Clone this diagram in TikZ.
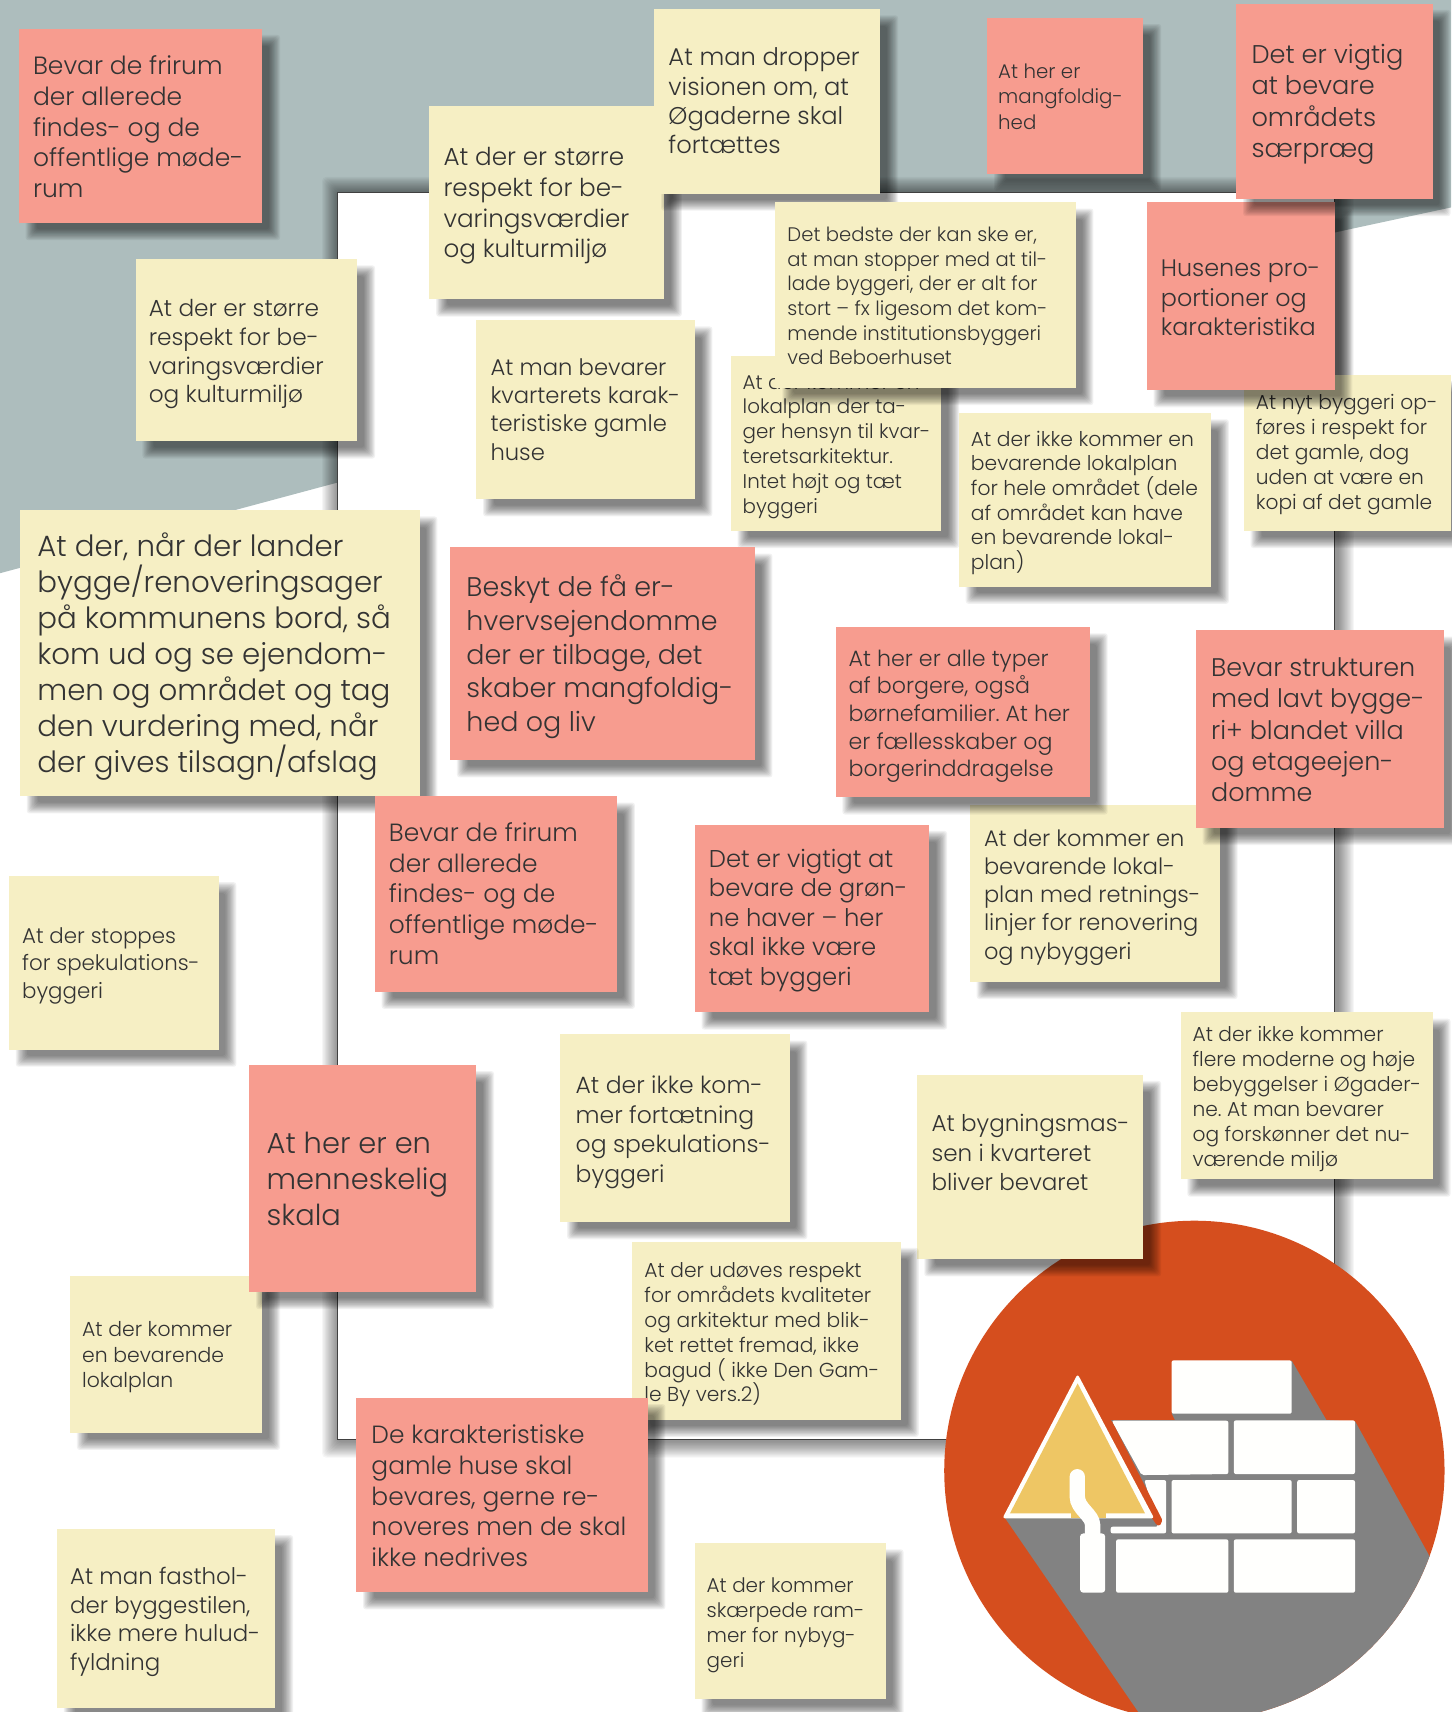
\documentclass[tikz,border=0pt]{standalone}
\usepackage{fontspec}
\setmainfont{Poppins}[UprightFont=* Light]
\definecolor{bgblue}{HTML}{ADBDBD}
\definecolor{noteyellow}{HTML}{F6EFC4}
\definecolor{notered}{HTML}{F79C8F}
\definecolor{iconorange}{HTML}{D54E1E}
\definecolor{icongrey}{HTML}{828282}
\definecolor{icongold}{HTML}{EEC664}
\definecolor{brick}{HTML}{FFFFFD}
\definecolor{ink}{HTML}{333333}
\tikzset{
  shadowlayer/.style={fill=black,fill opacity=0.055,rounded corners=2pt},
  glowlayer/.style={fill=black,fill opacity=0.035,rounded corners=3pt},
  ynote/.style={fill=noteyellow},
  rnote/.style={fill=notered},
  notebox/.style={anchor=north west,inner sep=0pt,draw=none},
  notetext/.style={anchor=west,inner sep=0pt,align=left,text=ink},
  brickshape/.style={fill=brick,rounded corners=1.5pt},
}
% name, style, x1, y1, x2, y2, line pitch, padding, then: font size, vertical nudge, text
\newcommand\stickynote[8]{%
  \foreach \i in {-5,-4,...,5}{\fill[shadowlayer] ({#3+11.5-\i},{#4+11-\i}) rectangle ({#5+11.5+\i},{#6+11+\i});}
  \node[notebox,#2,minimum width={\fpeval{(#5-#3)*0.81884}pt},minimum height={\fpeval{(#6-#4)*0.81884}pt}] (#1) at (#3,#4) {};
  \def\snpitch{#7}\def\snname{#1-t}\def\snx{\fpeval{#3+#8}}\def\sny{\fpeval{(#4+#6)/2}}%
  \snlabel}
\newcommand\snlabel[3]{%
  \node[notetext,font=\fontsize{\fpeval{#1*0.665}}{\fpeval{\snpitch*0.81884}}\selectfont] (\snname) at (\snx,\fpeval{\sny+#2}) {#3};
}
\begin{document}
\frenchspacing
\begin{tikzpicture}[x=0.81884pt,y=-0.81884pt]
\useasboundingbox (0,0) rectangle (1329,1568);
% background
\fill[bgblue] (0,525) -- (309,442) -- (1222,213) -- (1329,190) -- (1329,0) -- (0,0) -- cycle;
\foreach \i in {1,...,15}{\fill[glowlayer] ({309+1-\i},{176+1-\i}) rectangle ({1222+3+\i},{1318+2+\i});}
\node[anchor=north west,inner sep=0pt,fill=white,draw=black!75,line width=0.6pt,minimum width={\fpeval{913*0.81884}pt},minimum height={\fpeval{1142*0.81884}pt}] (page) at (309,176) {};
% icon
\begin{scope}[shift={(840.8,1099.1)},xscale=0.3117,yscale=0.3053]
  \fill[iconorange] (812,812) ellipse [x radius=735,y radius=750];
  \begin{scope}
    \clip (812,812) ellipse [x radius=735,y radius=750];
    \fill[icongrey] (253,950) -- (650,1540) -- (1700,1540) -- (1628,1300) -- (1285,665) -- (1200,660) -- (1098,482) -- (745,640) -- (755,660) -- (567,660) -- (700,950) -- cycle;
  \end{scope}
  \fill[brickshape] (745,481) rectangle (1098,641);
  \fill[brickshape] (569,662) -- (912,662) -- (912,822) -- (657,825) -- cycle;
  \fill[brickshape] (928,661) rectangle (1284,822);
  \fill[brickshape] (665,840) -- (729,840) -- (729,1000) -- (566,1000) -- (566,980) -- (705,980) -- cycle;
  \fill[brickshape] (745,840) rectangle (1098,1000);
  \fill[brickshape] (1114,840) rectangle (1284,1000);
  \fill[brickshape] (582,1018) rectangle (912,1178);
  \fill[brickshape] (928,1018) rectangle (1284,1178);
  \fill[brick,rounded corners=2.5pt] (476,1000) rectangle (550,1178);
  \fill[iconorange,rounded corners=1pt] (569,662) -- (718,960) -- (711,977) -- (701,975) -- (685,950) -- (480,600) -- cycle;
  \fill[brick,rounded corners=2pt] (469,522) -- (248,955) -- (694,955) -- cycle;
  \fill[icongold] (469,550) -- (270,940) -- (667,940) -- cycle;
  \fill[icongold] (450,938) rectangle (552,953);
  \draw[brick,line width=11.5pt,line cap=round] (468,830) -- (468,890) .. controls (468,925) and (513,945) .. (513,975) -- (513,1005);
\end{scope}
% notes, back to front
\stickynote{n1}{rnote}{17}{26}{240}{204}{28.2}{13}{28.2}{1}{Bevar de frirum\\der allerede\\findes- og de\\offentlige møde-\\rum}
\stickynote{n3}{ynote}{393}{97}{608}{274}{28.3}{13}{27.8}{3}{At der er større\\respekt for be-\\varingsværdier\\og kulturmiljø}
\stickynote{n2}{ynote}{599}{8}{806}{177}{26.8}{13}{27.3}{0}{At man dropper\\visionen om, at\\Øgaderne skal\\fortættes}
\stickynote{n4}{rnote}{904}{16}{1047}{159}{23.3}{10}{22.3}{1}{At her er\\mangfoldig-\\hed}
\stickynote{n6}{ynote}{124}{237}{327}{404}{26.3}{12}{26.2}{4}{At der er større\\respekt for be-\\varingsværdier\\og kulturmiljø}
\stickynote{n7}{ynote}{436}{293}{636}{457}{26}{13}{25.6}{0}{At man bevarer\\kvarterets karak-\\teristiske gamle\\huse}
\stickynote{n8}{ynote}{669}{326}{862}{486}{22.8}{11}{22.4}{3}{At der kommer en\\lokalplan der ta-\\ger hensyn til kvar-\\teretsarkitektur.\\Intet højt og tæt\\byggeri}
\stickynote{n9}{ynote}{710}{185}{985}{355}{22.6}{11}{22.1}{1}{Det bedste der kan ske er,\\at man stopper med at til-\\lade byggeri, der er alt for\\stort – fx ligesom det kom-\\mende institutionsbyggeri\\ved Beboerhuset}
\stickynote{n11}{ynote}{1139}{343}{1329}{486}{23}{11}{22.8}{2}{At nyt byggeri op-\\føres i respekt for\\det gamle, dog\\uden at være en\\kopi af det gamle}
\stickynote{n10}{rnote}{1050}{185}{1222}{357}{27}{13}{26.9}{2}{Husenes pro-\\portioner og\\karakteristika}
\stickynote{n5}{rnote}{1132}{3}{1312}{182}{28.5}{14}{28.9}{3}{Det er vigtig\\at bevare\\områdets\\særpræg}
\stickynote{n12}{ynote}{878}{378}{1109}{537}{22.6}{11}{22.9}{3}{At der ikke kommer en\\bevarende lokalplan\\for hele området (dele\\af området kan have\\en bevarende lokal-\\plan)}
\stickynote{n13}{ynote}{18}{467}{384}{729}{33}{16}{33}{3}{At der, når der lander\\bygge/renoveringsager\\på kommunens bord, så\\kom ud og se ejendom-\\men og området og tag\\den vurdering med, når\\der gives tilsagn/afslag}
\stickynote{n14}{rnote}{412}{501}{691}{696}{31}{15}{30.4}{3}{Beskyt de få er-\\hvervsejendomme\\der er tilbage, det\\skaber mangfoldig-\\hed og liv}
\stickynote{n17}{ynote}{888}{737}{1117}{899}{25.8}{13}{25.4}{4}{At der kommer en\\bevarende lokal-\\plan med retnings-\\linjer for renovering\\og nybyggeri}
\stickynote{n15}{rnote}{765}{574}{998}{730}{25.3}{12}{25}{4}{At her er alle typer\\af borgere, også\\børnefamilier. At her\\er fællesskaber og\\borgerinddragelse}
\stickynote{n16}{rnote}{1095}{577}{1322}{758}{28.7}{14}{28.7}{1}{Bevar strukturen\\med lavt bygge-\\ri+ blandet villa\\og etageejen-\\domme}
\stickynote{n18}{rnote}{343}{729}{565}{908}{28.2}{13}{28.1}{0}{Bevar de frirum\\der allerede\\findes- og de\\offentlige møde-\\rum}
\stickynote{n19}{rnote}{636}{755}{851}{927}{27}{13}{27.4}{2}{Det er vigtigt at\\bevare de grøn-\\ne haver – her\\skal ikke være\\tæt byggeri}
\stickynote{n20}{ynote}{8}{802}{200}{961}{25}{12}{24.1}{3}{At der stoppes\\for spekulations-\\byggeri}
\stickynote{n25}{ynote}{64}{1168}{240}{1312}{23}{11}{23}{3}{At der kommer\\en bevarende\\lokalplan}
\stickynote{n21}{rnote}{228}{975}{436}{1183}{33}{16}{32.6}{1}{At her er en\\menneskelig\\skala}
\stickynote{n22}{ynote}{513}{947}{723}{1119}{27}{14}{26.5}{4}{At der ikke kom-\\mer fortætning\\og spekulations-\\byggeri}
\stickynote{n23}{ynote}{840}{984}{1047}{1153}{27}{13}{26}{-13}{At bygningsmas-\\sen i kvarteret\\bliver bevaret}
\stickynote{n24}{ynote}{1081}{927}{1312}{1080}{22.8}{11}{22.8}{3}{At der ikke kommer\\flere moderne og høje\\bebyggelser i Øgader-\\ne. At man bevarer\\og forskønner det nu-\\værende miljø}
\stickynote{n26}{ynote}{579}{1137}{825}{1300}{22.8}{11}{22.8}{4}{At der udøves respekt\\for områdets kvaliteter\\og arkitektur med blik-\\ket rettet fremad, ikke\\bagud ( ikke Den Gam-\\le By vers.2)}
\stickynote{n27}{rnote}{326}{1280}{593}{1458}{28.2}{14}{28.1}{1}{De karakteristiske\\gamle huse skal\\bevares, gerne re-\\noveres men de skal\\ikke nedrives}
\stickynote{n28}{ynote}{52}{1400}{252}{1564}{26}{12}{25.8}{3.5}{At man fasthol-\\der byggestilen,\\ikke mere hulud-\\fyldning}
\stickynote{n29}{ynote}{636}{1413}{811}{1556}{23}{11}{22.5}{4}{At der kommer\\skærpede ram-\\mer for nybyg-\\geri}
\end{tikzpicture}
\end{document}
